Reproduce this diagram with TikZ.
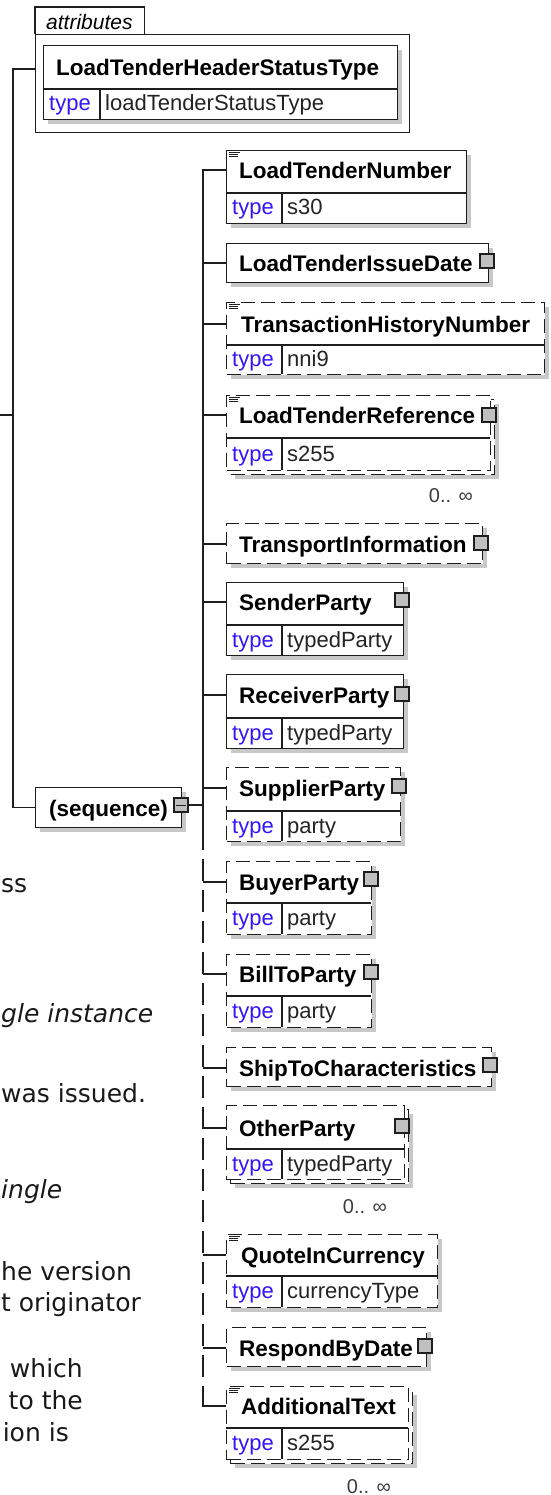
\documentclass[tikz,border=0pt]{standalone}
\usepackage{fontspec}
\setmainfont{Liberation Sans}
\newfontfamily\xdv{DejaVu Sans}
\usetikzlibrary{shadows}
\definecolor{linec}{RGB}{30,30,30}
\definecolor{shadowc}{RGB}{200,200,200}
\definecolor{sqc}{RGB}{192,192,192}
\definecolor{typeblue}{RGB}{50,20,255}
\definecolor{multc}{RGB}{60,60,60}
\definecolor{valc}{RGB}{35,35,35}
\newcommand\xnm{\bfseries\fontsize{22.5}{26}\selectfont}
\newcommand\xty{\fontsize{22}{25}\selectfont}
\newcommand\xmu{\fontsize{20}{24}\selectfont}
\newcommand\xbg{\xdv\fontsize{25}{30}\selectfont}
\newcommand\xbgi{\xdv\itshape\fontsize{25}{30}\selectfont}
\begin{document}
\begin{tikzpicture}[x=1pt,y=-1pt,
  ln/.style={draw=linec, line width=1.3pt},
  elbox/.style={draw=linec, line width=1.3pt, fill=white, rectangle, inner sep=0pt, anchor=north west},
  shad/.style={general shadow={fill=shadowc, shadow xshift=4pt, shadow yshift=-4pt}},
  opt/.style={dash pattern=on 14pt off 6pt},
  busdash/.style={dash pattern=on 22pt off 9pt},
  nm/.style={font=\xnm, text=black, inner sep=0pt, text height=16.5pt, text depth=0pt, anchor=west},
  tl/.style={font=\xty, text=typeblue, inner sep=0pt, anchor=base west},
  tv/.style={font=\xty, text=valc, inner sep=0pt, anchor=base west},
  sq/.style={draw=linec, line width=1.1pt, fill=sqc, minimum size=14pt, inner sep=0pt},
  mult/.style={font=\xmu, text=multc, inner sep=0pt, anchor=base east},
  doc/.style={draw=linec, line width=0.9pt},
  bgl/.style={font=\xbg, text=black!90, inner sep=0pt, anchor=base west},
  bgli/.style={font=\xbgi, text=black!90, inner sep=0pt, anchor=base west},
  bgr/.style={font=\xbg, text=black!90, inner sep=0pt, anchor=base east}]
\useasboundingbox (0,0) rectangle (550,1495);
\fill[white] (0,0) rectangle (550,1495);

% background document text at the left edge
\node[bgl]  (b1) at (1,892)   {ss};
\node[bgli] (b2) at (1,1022)  {gle instance};
\node[bgl]  (b3) at (1,1102)  {was issued.};
\node[bgli] (b4) at (1,1198)  {ingle};
\node[bgl]  (b5) at (1,1280)  {he version};
\node[bgl]  (b6) at (1,1311)  {t originator};
\node[bgr]  (b7) at (83,1377) {which};
\node[bgr]  (b8) at (83,1409) {to the};
\node[bgr]  (b9) at (69,1441) {ion is};

% attributes group
\node[elbox, fill=none, minimum width=374pt, minimum height=98pt] (attrbox) at (35,34) {};
\node[inner sep=0pt, minimum width=109pt, minimum height=27pt, anchor=north west] (attrtab) at (35,7) {};
\draw[ln] (attrbox.north west) -- (attrtab.north west) -- (attrtab.north east) -- (attrtab.south east);
\node[font=\itshape\fontsize{21}{24}\selectfont, inner sep=0pt, anchor=base west] (attrtxt) at (46,30) {attributes};
\node[elbox, shad, minimum width=354pt, minimum height=74pt] (hst) at (43,45) {};
\draw[ln] (43,89) -- (397,89) (100,89) -- (100,119);
\node[nm] (hstn) at (56,67) {LoadTenderHeaderStatusType};
\node[tl] (hstt) at (49,111) {type};
\node[tv] (hstv) at (105,111) {loadTenderStatusType};

% sequence
\node[elbox, shad, minimum width=146pt, minimum height=40pt] (seq) at (35,787) {};
\node[nm] (seqn) at (49,808) {(sequence)};
\node[sq] (seqsq) at (181,805) {};
\draw[line width=0.9pt, draw=linec] ([xshift=3pt]seqsq.west) -- ([xshift=-3pt]seqsq.east);

% left tree line
\coordinate (lt) at (13,69);
\coordinate (stub) at (0,415);
\draw[ln] (attrbox.west |- lt) -- (lt) |- (seq.west);
\draw[ln] (stub) -- (lt |- stub);

% 1 LoadTenderNumber
\node[elbox, shad, minimum width=240pt, minimum height=73pt] (e1) at (226,150) {};
\draw[ln] (226,193) -- (466,193) (282,193) -- (282,223);
\draw[doc] (229,152.5) -- +(11,0) (229,154.5) -- +(9,0) (229,156.5) -- +(9,0);
\node[nm] (n1) at (239,170) {LoadTenderNumber};
\node[tl] (t1) at (232,215) {type};
\node[tv] (v1) at (287,215) {s30};

% 2 LoadTenderIssueDate
\node[elbox, shad, minimum width=262pt, minimum height=39pt] (e2) at (226,243) {};
\node[nm] (n2) at (239,263) {LoadTenderIssueDate};
\node[sq] (s2) at (487,261) {};

% 3 TransactionHistoryNumber
\node[elbox, shad, opt, minimum width=318pt, minimum height=72pt] (e3) at (226,302) {};
\draw[ln] (226,345) -- (544,345) (282,345) -- (282,374);
\draw[doc] (229,304.5) -- +(11,0) (229,306.5) -- +(9,0) (229,308.5) -- +(9,0);
\node[nm] (n3) at (241,324) {TransactionHistoryNumber};
\node[tl] (t3) at (232,366.5) {type};
\node[tv] (v3) at (287,366.5) {nni9};

% 4 LoadTenderReference (repeated)
\node[elbox, shad, opt, minimum width=264pt, minimum height=75pt] (e4b) at (230,399) {};
\node[elbox, opt, minimum width=264pt, minimum height=75pt] (e4) at (226,395) {};
\draw[ln] (226,438) -- (490,438) (282,438) -- (282,470);
\draw[doc] (229,397.5) -- +(11,0) (229,399.5) -- +(9,0) (229,401.5) -- +(9,0);
\node[nm] (n4) at (239,415) {LoadTenderReference};
\node[tl] (t4) at (232,461) {type};
\node[tv] (v4) at (287,461) {s255};
\node[sq] (s4) at (489,415) {};
\node[mult] (m4) at (473,502) {0.. ∞};

% 5 TransportInformation
\node[elbox, shad, opt, minimum width=256pt, minimum height=40pt] (e5) at (226,523) {};
\node[nm] (n5) at (239,544) {TransportInformation};
\node[sq] (s5) at (481,543) {};

% 6 SenderParty
\node[elbox, shad, minimum width=177pt, minimum height=73pt] (e6) at (226,582) {};
\draw[ln] (226,625) -- (403,625) (282,625) -- (282,655);
\node[nm] (n6) at (239,602) {SenderParty};
\node[tl] (t6) at (232,647) {type};
\node[tv] (v6) at (287,647) {typedParty};
\node[sq] (s6) at (402,600) {};

% 7 ReceiverParty
\node[elbox, shad, minimum width=177pt, minimum height=74pt] (e7) at (226,674) {};
\draw[ln] (226,718) -- (403,718) (282,718) -- (282,748);
\node[nm] (n7) at (239,695) {ReceiverParty};
\node[tl] (t7) at (232,740) {type};
\node[tv] (v7) at (287,740) {typedParty};
\node[sq] (s7) at (402,694) {};

% 8 SupplierParty
\node[elbox, shad, opt, minimum width=174pt, minimum height=74pt] (e8) at (226,767) {};
\draw[ln] (226,811) -- (400,811) (282,811) -- (282,841);
\node[nm] (n8) at (239,788) {SupplierParty};
\node[tl] (t8) at (232,833) {type};
\node[tv] (v8) at (287,833) {party};
\node[sq] (s8) at (399,786) {};

% 9 BuyerParty
\node[elbox, shad, opt, minimum width=145pt, minimum height=73pt] (e9) at (226,861) {};
\draw[ln] (226,903) -- (371,903) (282,903) -- (282,934);
\node[nm] (n9) at (239,882) {BuyerParty};
\node[tl] (t9) at (232,925.5) {type};
\node[tv] (v9) at (287,925.5) {party};
\node[sq] (s9) at (371,879) {};

% 10 BillToParty
\node[elbox, shad, opt, minimum width=145pt, minimum height=73pt] (e10) at (226,954) {};
\draw[ln] (226,996) -- (371,996) (282,996) -- (282,1027);
\node[nm] (n10) at (239,974) {BillToParty};
\node[tl] (t10) at (232,1018.5) {type};
\node[tv] (v10) at (287,1018.5) {party};
\node[sq] (s10) at (371,972) {};

% 11 ShipToCharacteristics
\node[elbox, shad, opt, minimum width=265pt, minimum height=39pt] (e11) at (226,1047) {};
\node[nm] (n11) at (239,1068) {ShipToCharacteristics};
\node[sq] (s11) at (490,1065) {};

% 12 OtherParty (repeated)
\node[elbox, shad, opt, minimum width=178pt, minimum height=74pt] (e12b) at (230,1109) {};
\node[elbox, opt, minimum width=178pt, minimum height=74pt] (e12) at (226,1105) {};
\draw[ln] (226,1149) -- (404,1149) (282,1149) -- (282,1179);
\node[nm] (n12) at (239,1128) {OtherParty};
\node[tl] (t12) at (232,1171) {type};
\node[tv] (v12) at (287,1171) {typedParty};
\node[sq] (s12) at (402,1126) {};
\node[mult] (m12) at (387,1213) {0.. ∞};

% 13 QuoteInCurrency
\node[elbox, shad, opt, minimum width=211pt, minimum height=73pt] (e13) at (226,1234) {};
\draw[ln] (226,1276) -- (437,1276) (282,1276) -- (282,1307);
\draw[doc] (229,1236.5) -- +(11,0) (229,1238.5) -- +(9,0) (229,1240.5) -- +(9,0);
\node[nm] (n13) at (241,1255) {QuoteInCurrency};
\node[tl] (t13) at (232,1298.5) {type};
\node[tv] (v13) at (287,1298.5) {currencyType};

% 14 RespondByDate
\node[elbox, shad, opt, minimum width=200pt, minimum height=39pt] (e14) at (226,1327) {};
\node[nm] (n14) at (239,1348) {RespondByDate};
\node[sq] (s14) at (425,1346) {};

% 15 AdditionalText (repeated)
\node[elbox, shad, opt, minimum width=182pt, minimum height=73pt] (e15b) at (230,1390) {};
\node[elbox, opt, minimum width=182pt, minimum height=73pt] (e15) at (226,1386) {};
\draw[ln] (226,1428) -- (408,1428) (282,1428) -- (282,1459);
\draw[doc] (229,1388.5) -- +(11,0) (229,1390.5) -- +(9,0) (229,1392.5) -- +(9,0);
\node[nm] (n15) at (241,1406) {AdditionalText};
\node[tl] (t15) at (232,1450.5) {type};
\node[tv] (v15) at (287,1450.5) {s255};
\node[mult] (m15) at (391,1493) {0.. ∞};

% bus and connectors
\coordinate (bmid) at (203,828);
\draw[ln] (bmid) |- (e1.west |- n1.west);
\draw[ln] (bmid |- n2.west) -- (e2.west |- n2.west);
\draw[ln] (bmid |- n3.west) -- (e3.west |- n3.west);
\draw[ln] (bmid |- n4.west) -- (e4.west |- n4.west);
\draw[ln] (bmid |- n5.west) -- (e5.west |- n5.west);
\draw[ln] (bmid |- n6.west) -- (e6.west |- n6.west);
\draw[ln] (bmid |- n7.west) -- (e7.west |- n7.west);
\draw[ln] (bmid |- n8.west) -- (e8.west |- n8.west);
\draw[ln] (seqsq.east) -- (bmid |- seqsq.east);
\draw[ln, busdash] (bmid) -- (bmid |- n15.west);
\draw[ln] (bmid |- n9.west) -- (e9.west |- n9.west);
\draw[ln] (bmid |- n10.west) -- (e10.west |- n10.west);
\draw[ln] (bmid |- n11.west) -- (e11.west |- n11.west);
\draw[ln] (bmid |- n12.west) -- (e12.west |- n12.west);
\draw[ln] (bmid |- n13.west) -- (e13.west |- n13.west);
\draw[ln] (bmid |- n14.west) -- (e14.west |- n14.west);
\draw[ln] ([yshift=6pt]bmid |- n15.west) -- (bmid |- n15.west) -- (e15.west |- n15.west);
\end{tikzpicture}
\end{document}
